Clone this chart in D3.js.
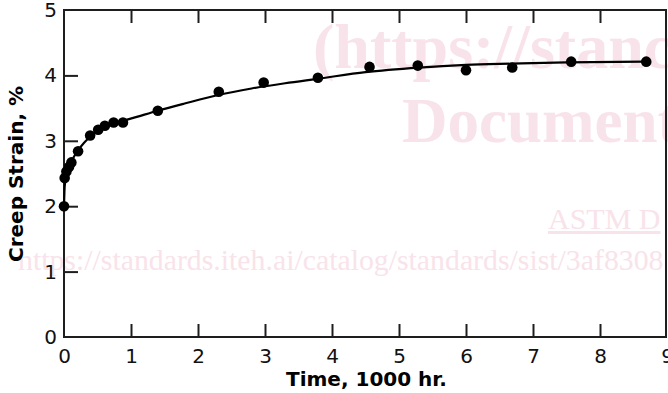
<!DOCTYPE html>
<html>
<head>
<meta charset="utf-8">
<script src="https://cdn.jsdelivr.net/npm/d3@7/dist/d3.min.js"></script>
<style>
  html, body { margin: 0; padding: 0; background: #fff; }
  svg { display: block; }
</style>
</head>
<body>
<svg id="chart" width="668" height="393"></svg>
<script>
// ---- data ----
const xTicks = [0, 1, 2, 3, 4, 5, 6, 7, 8, 9];
const yTicks = [0, 1, 2, 3, 4, 5];
const pointTime = [0, 0.01, 0.036, 0.075, 0.11, 0.21, 0.39, 0.51, 0.61, 0.74, 0.88, 1.4, 2.31, 2.98, 3.79, 4.56, 5.28, 6.0, 6.69, 7.57, 8.69];
const pointStrain = [2.0, 2.43, 2.53, 2.6, 2.67, 2.84, 3.08, 3.17, 3.23, 3.28, 3.28, 3.46, 3.75, 3.89, 3.965, 4.13, 4.15, 4.08, 4.12, 4.21, 4.21];
const fitTime = [0, 0.01, 0.03, 0.06, 0.1, 0.15, 0.2, 0.3, 0.4, 0.5, 0.6, 0.75, 0.9, 1.1, 1.4, 1.8, 2.3, 2.8, 3.3, 3.8, 4.5, 5.3, 6.0, 6.7, 7.5, 8.7];
const fitStrain = [2.0, 2.3, 2.45, 2.56, 2.66, 2.76, 2.84, 2.97, 3.07, 3.14, 3.2, 3.26, 3.31, 3.37, 3.46, 3.57, 3.7, 3.8, 3.88, 3.95, 4.05, 4.12, 4.16, 4.18, 4.2, 4.21];
const xTitle = "Time, 1000 hr.";
const yTitle = "Creep Strain, %";
const watermark = [
  {text: "(https://stanc", x: 313, y: 68, size: 64, weight: "bold", underline: false},
  {text: "Document", x: 402, y: 142, size: 63, weight: "bold", underline: false},
  {text: "ASTM D", x: 548, y: 229, size: 30, weight: "normal", underline: true},
  {text: "https://standards.iteh.ai/catalog/standards/sist/3af8308", x: 18, y: 270, size: 29.8, weight: "normal", underline: false}
];

// ---- layout ----
const svg = d3.select("#chart");
const mLeft = 64, mRight = 666, mTop = 10, mBottom = 337;
const x = d3.scaleLinear().domain([0, 9]).range([mLeft, 667]);
const y = d3.scaleLinear().domain([0, 5]).range([mBottom, mTop]);
const ink = "#1e1e1e";

// watermark (behind)
const wm = svg.append("g");
watermark.forEach(w => {
  wm.append("text")
    .attr("x", w.x).attr("y", w.y)
    .attr("font-family", "'Liberation Serif', 'Times New Roman', serif")
    .attr("font-size", w.size)
    .attr("font-weight", w.weight)
    .attr("fill", "#f9e3ea")
    .attr("text-decoration", w.underline ? "underline" : null)
    .text(w.text);
});

// axes
const fontFam = "'DejaVu Sans', Verdana, sans-serif";
const xAxis = svg.append("g")
  .attr("transform", `translate(0,${mBottom})`)
  .call(d3.axisBottom(x).tickValues(xTicks).tickSize(-13).tickSizeOuter(0).tickPadding(12).tickFormat(d3.format("d")));
const yAxis = svg.append("g")
  .attr("transform", `translate(${mLeft},0)`)
  .call(d3.axisLeft(y).tickValues(yTicks).tickSize(-14).tickSizeOuter(0).tickPadding(7).tickFormat(d3.format("d")));
const topAxis = svg.append("g")
  .attr("transform", `translate(0,${mTop})`)
  .call(d3.axisTop(x).tickValues(xTicks.filter(d => d > 0 && d < 9)).tickSize(-13).tickSizeOuter(0).tickFormat(""));

[xAxis, yAxis, topAxis].forEach(g => {
  g.select(".domain").remove();
  g.selectAll(".tick line").attr("stroke", ink).attr("stroke-width", 2);
  g.selectAll(".tick text").attr("fill", "#111").attr("font-family", fontFam).attr("font-size", 20);
});
xAxis.selectAll(".tick").filter(d => d === 0 || d === 9).select("line").remove();
yAxis.selectAll(".tick").filter(d => d === 0 || d === 5).select("line").remove();

// frame
svg.append("rect")
  .attr("x", mLeft).attr("y", mTop)
  .attr("width", mRight - mLeft).attr("height", mBottom - mTop)
  .attr("fill", "none").attr("stroke", ink).attr("stroke-width", 2);

// fit curve
const line = d3.line().x(d => x(d[0])).y(d => y(d[1])).curve(d3.curveMonotoneX);
svg.append("path")
  .datum(fitTime.map((t, i) => [t, fitStrain[i]]))
  .attr("d", line)
  .attr("fill", "none").attr("stroke", "#000").attr("stroke-width", 2.2);

// points
svg.append("g").selectAll("circle")
  .data(pointTime.map((t, i) => [t, pointStrain[i]]))
  .join("circle")
  .attr("cx", d => x(d[0])).attr("cy", d => y(d[1]))
  .attr("r", 5.3).attr("fill", "#000");

// titles
svg.append("text")
  .attr("x", 366.5).attr("y", 386)
  .attr("text-anchor", "middle")
  .attr("font-family", fontFam).attr("font-weight", "bold").attr("font-size", 20)
  .attr("fill", "#000")
  .text(xTitle);
svg.append("text")
  .attr("transform", "translate(23,174) rotate(-90)")
  .attr("text-anchor", "middle")
  .attr("font-family", fontFam).attr("font-weight", "bold").attr("font-size", 20)
  .attr("fill", "#000")
  .text(yTitle);
</script>
</body>
</html>
